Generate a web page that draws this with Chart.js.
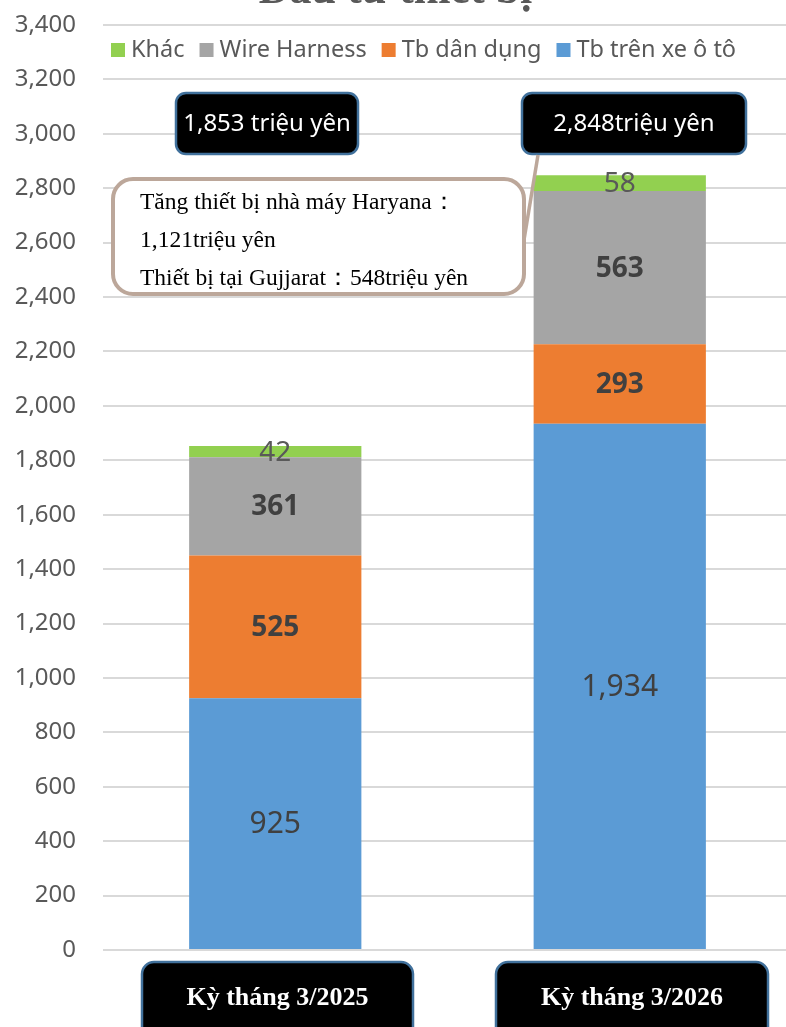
<!DOCTYPE html>
<html>
<head>
<meta charset="utf-8">
<script src="https://cdn.jsdelivr.net/npm/chart.js@4"></script>
<style>
  html, body { margin: 0; padding: 0; background: #fff; overflow: hidden; }
  #chart { display: block; }
</style>
</head>
<body>
<canvas id="chart" width="792" height="1027"></canvas>
<script>
const categories = ["Kỳ tháng 3/2025", "Kỳ tháng 3/2026"];
const seriesNames = ["Tb trên xe ô tô", "Tb dân dụng", "Wire Harness", "Khác"];
const vehicle = [925, 1934];
const consumer = [525, 293];
const wireHarness = [361, 563];
const other = [42, 58];
const totalSuffix = [" triệu yên", "triệu yên"];
const noteLines = [
  "Tăng thiết bị nhà máy Haryana：",
  "1,121triệu yên",
  "Thiết bị tại Gujjarat：548triệu yên"
];

const colors = ["#5B9BD5", "#ED7D31", "#A5A5A5", "#92D050"];
const sans = '"Noto Sans", Roboto, sans-serif';
const serif = '"Liberation Serif", "DejaVu Serif", serif';

// per-series label style: weight, size, colour
const labelStyle = [
  { weight: "normal", size: 30, color: "#404040" },
  { weight: "bold", size: 28, color: "#404040" },
  { weight: "bold", size: 28, color: "#404040" },
  { weight: "normal", size: 28, color: "#595959" }
];

function fmt(n) { return n.toLocaleString("en-US"); }

function roundBox(ctx, x, y, w, h, r, fill, stroke, lw) {
  ctx.beginPath();
  ctx.roundRect(x, y, w, h, r);
  ctx.fillStyle = fill;
  ctx.fill();
  ctx.lineWidth = lw;
  ctx.strokeStyle = stroke;
  ctx.stroke();
}

const segmentLabels = {
  id: "segmentLabels",
  afterDatasetsDraw(chart) {
    const ctx = chart.ctx;
    ctx.save();
    ctx.textAlign = "center";
    ctx.textBaseline = "middle";
    chart.data.datasets.forEach((ds, i) => {
      const st = labelStyle[i];
      chart.getDatasetMeta(i).data.forEach((bar, j) => {
        const c = bar.getCenterPoint();
        ctx.font = st.weight + " " + st.size + "px " + sans;
        ctx.fillStyle = st.color;
        ctx.fillText(fmt(ds.data[j]), c.x, c.y + 1);
      });
    });
    ctx.restore();
  }
};

const decorations = {
  id: "decorations",
  afterDraw(chart) {
    const ctx = chart.ctx;
    ctx.save();

    // title, mostly cut off at the top edge
    ctx.font = "bold 44px " + serif;
    ctx.fillStyle = "#595959";
    ctx.textAlign = "center";
    ctx.textBaseline = "alphabetic";
    ctx.fillText("Đầu tư thiết bị", 395, 3);

    // legend (reverse stacking order)
    ctx.font = "23.5px " + sans;
    ctx.textAlign = "left";
    ctx.textBaseline = "middle";
    let lx = 111;
    for (let i = seriesNames.length - 1; i >= 0; i--) {
      ctx.fillStyle = colors[i];
      ctx.fillRect(lx, 43, 14, 14);
      ctx.fillStyle = "#595959";
      ctx.fillText(seriesNames[i], lx + 20, 50);
      lx += 20 + ctx.measureText(seriesNames[i]).width + 15;
    }

    // totals above each bar
    const totals = categories.map((_, j) =>
      vehicle[j] + consumer[j] + wireHarness[j] + other[j]);
    const totalBoxes = [[176, 182], [522, 224]];
    ctx.font = "24px " + sans;
    ctx.textAlign = "center";
    totals.forEach((t, j) => {
      const [bx, bw] = totalBoxes[j];
      roundBox(ctx, bx, 93, bw, 61, 10, "#000", "#41719C", 2.5);
      ctx.fillStyle = "#fff";
      ctx.fillText(fmt(t) + totalSuffix[j], bx + bw / 2, 124);
    });

    // callout tail and note box
    ctx.strokeStyle = "#BCA79A";
    ctx.lineWidth = 3.5;
    ctx.beginPath();
    ctx.moveTo(538, 155);
    ctx.lineTo(522, 252);
    ctx.stroke();
    roundBox(ctx, 113, 179, 411, 115, 20, "#fff", "#BCA79A", 4);
    ctx.font = "23.5px " + serif;
    ctx.fillStyle = "#000";
    ctx.textAlign = "left";
    ctx.textBaseline = "alphabetic";
    noteLines.forEach((line, k) => ctx.fillText(line, 140, 209 + k * 38));

    // category labels in boxes under the axis
    const catBoxes = [[142, 271], [496, 272]];
    ctx.font = "bold 26px " + serif;
    ctx.textAlign = "center";
    ctx.textBaseline = "middle";
    categories.forEach((c, j) => {
      const [bx, bw] = catBoxes[j];
      roundBox(ctx, bx, 962, bw, 80, 12, "#000", "#41719C", 2.5);
      ctx.fillStyle = "#fff";
      ctx.fillText(c, bx + bw / 2, 998);
    });

    ctx.restore();
  }
};

new Chart(document.getElementById("chart"), {
  type: "bar",
  data: {
    labels: categories,
    datasets: [
      { label: seriesNames[0], data: vehicle, backgroundColor: colors[0] },
      { label: seriesNames[1], data: consumer, backgroundColor: colors[1] },
      { label: seriesNames[2], data: wireHarness, backgroundColor: colors[2] },
      { label: seriesNames[3], data: other, backgroundColor: colors[3] }
    ]
  },
  options: {
    responsive: false,
    animation: false,
    devicePixelRatio: 1,
    layout: { padding: { top: 25, bottom: 77, left: 0, right: 0 } },
    datasets: { bar: { barPercentage: 0.5, categoryPercentage: 1, borderWidth: 0 } },
    scales: {
      x: { stacked: true, display: false },
      y: {
        stacked: true,
        min: 0,
        max: 3400,
        afterFit(scale) {
          scale.width = 103;
          scale.paddingTop = 0;
          scale.paddingBottom = 0;
        },
        border: { display: false },
        grid: { color: "#D9D9D9", lineWidth: 2, drawTicks: false },
        ticks: {
          stepSize: 200,
          padding: 27,
          color: "#595959",
          font: { family: sans, size: 24 },
          callback: v => fmt(v)
        }
      }
    },
    plugins: {
      legend: { display: false },
      tooltip: { enabled: false }
    }
  },
  plugins: [segmentLabels, decorations]
});
</script>
</body>
</html>
